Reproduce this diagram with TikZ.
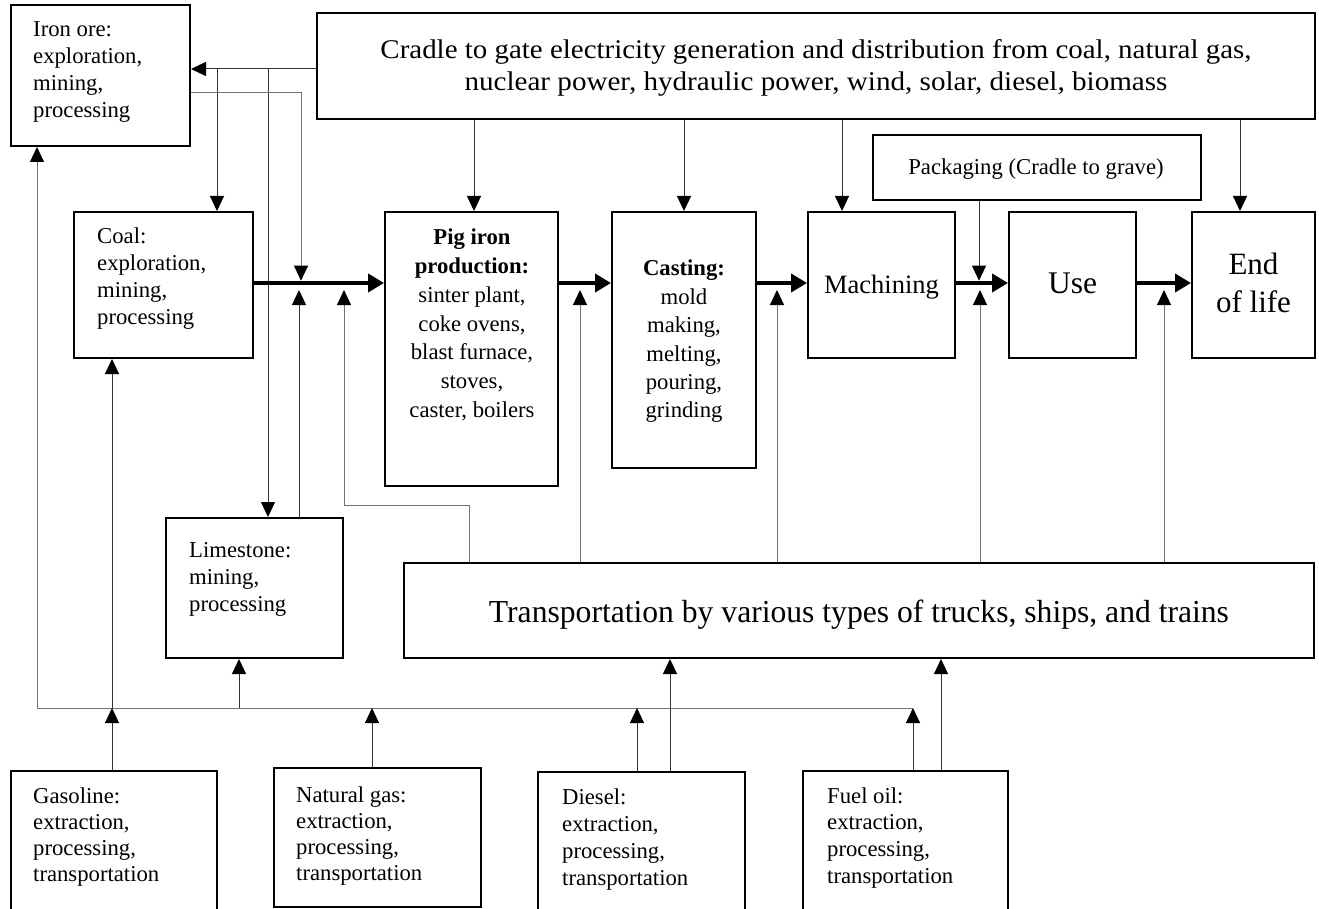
\documentclass[tikz,border=0pt]{standalone}
\usepackage{fontspec}
\usepackage{graphicx}
\setmainfont{Liberation Serif}
\usetikzlibrary{arrows.meta,fit}
\begin{document}
\begin{tikzpicture}[x=1pt,y=-1pt,
  box/.style={draw, line width=2pt, inner sep=0pt},
  txt/.style={inner sep=0pt, anchor=base west, font=\fontsize{22.7}{27}\selectfont},
  ctxt/.style={inner sep=0pt, anchor=base},
  ln/.style={line width=1pt, draw=black!80},
  lng/.style={line width=1pt, draw=black!55},
  tip/.style={-{Triangle[length=15pt,width=14pt,color=black]}},
  flow/.style={line width=4.5pt, draw=black, -{Triangle[length=16pt,width=18pt]}}]
\useasboundingbox (0,0) rectangle (1319,909);

% boxes
\node[box, fit={(11,5) (190,146)}] (iron) {};
\node[box, fit={(317,13) (1315,119)}] (cradle) {};
\node[box, fit={(74,212) (253,358)}] (coal) {};
\node[box, fit={(385,212) (558,486)}] (pig) {};
\node[box, fit={(612,212) (756,468)}] (cast) {};
\node[box, fit={(873,135) (1201,200)}] (pack) {};
\node[box, fit={(808,212) (955,358)}] (mach) {};
\node[box, fit={(1009,212) (1136,358)}] (use) {};
\node[box, fit={(1192,212) (1315,358)}] (eol) {};
\node[box, fit={(166,518) (343,658)}] (lime) {};
\node[box, fit={(404,563) (1314,658)}] (trans) {};
\node[box, fit={(11,771) (217,920)}] (gas) {};
\node[box, fit={(274,768) (481,907)}] (ngas) {};
\node[box, fit={(538,772) (745,920)}] (dies) {};
\node[box, fit={(803,771) (1008,920)}] (fuel) {};

% texts
\node[txt] (iront) at (33,37) {\parbox[t]{170pt}{\raggedright Iron ore:\\exploration,\\mining,\\processing}};
\node[txt] (coalt) at (97,244) {\parbox[t]{170pt}{\raggedright Coal:\\exploration,\\mining,\\processing}};
\node[txt] (limet) at (189,557) {\parbox[t]{150pt}{\raggedright Limestone:\\mining,\\processing}};
\node[txt, font=\fontsize{22.7}{26.3}\selectfont] (gast) at (33,803) {\parbox[t]{180pt}{\raggedright Gasoline:\\extraction,\\processing,\\transportation}};
\node[txt, font=\fontsize{22.7}{26.3}\selectfont] (ngast) at (296,802) {\parbox[t]{180pt}{\raggedright Natural gas:\\extraction,\\processing,\\transportation}};
\node[txt, font=\fontsize{22.7}{27}\selectfont] (diest) at (562,804) {\parbox[t]{180pt}{\raggedright Diesel:\\extraction,\\processing,\\transportation}};
\node[txt, font=\fontsize{22.7}{26.7}\selectfont] (fuelt) at (827,803) {\parbox[t]{180pt}{\raggedright Fuel oil:\\extraction,\\processing,\\transportation}};
\node[ctxt, font=\fontsize{22.7}{28.7}\selectfont] (pigt) at (472,245) {\parbox[t]{170pt}{\centering \textbf{Pig iron}\\\textbf{production:}\\sinter plant,\\coke ovens,\\blast furnace,\\stoves,\\caster, boilers}};
\node[ctxt, font=\fontsize{22.7}{28.4}\selectfont] (castt) at (684,276) {\parbox[t]{140pt}{\centering \textbf{Casting:}\\mold\\making,\\melting,\\pouring,\\grinding}};
\node[ctxt, font=\fontsize{22.7}{27}\selectfont] (packt) at (1036,175) {Packaging (Cradle to grave)};
\node[ctxt, font=\fontsize{26.5}{32}\selectfont] (macht) at (881.5,293) {Machining};
\node[ctxt, font=\fontsize{31.5}{38}\selectfont] (uset) at (1072.5,293) {Use};
\node[ctxt, font=\fontsize{31}{38}\selectfont] (eolt) at (1253.5,274) {\parbox[t]{120pt}{\centering End\\of life}};
\node[ctxt, font=\fontsize{27}{32}\selectfont] (cradlet) at (816,59) {\parbox[t]{990pt}{\centering\resizebox{871pt}{\height}{Cradle to gate electricity generation and distribution from coal, natural gas,}\\\resizebox{703pt}{\height}{nuclear power, hydraulic power, wind, solar, diesel, biomass}}};
\node[ctxt, font=\fontsize{32}{36}\selectfont] (transt) at (859,622) {\resizebox{740pt}{\height}{Transportation by various types of trucks, ships, and trains}};

% main flow line level
\coordinate (ml) at (0,283);

% electricity links on the left
\draw[ln,tip] (cradle.west |- 0,69) -- (iron.east |- 0,69);
\coordinate (ja) at (217,69);
\coordinate (jb) at (268,69);
\draw[ln,tip] (ja) -- (coal.north -| ja);
\draw[ln,tip] (jb) -- (lime.north -| jb);
\coordinate (dn1) at (301,280.7);
\draw[lng,tip] (iron.east |- 0,93) -| (dn1);
\coordinate (up1) at (299,290);
\draw[ln,tip] (lime.north -| up1) -- (up1);
\coordinate (up2) at (344,290);
\draw[lng,tip] (trans.north -| 469,0) |- (up2 |- 0,505) -- (up2);

% electricity down arrows
\draw[ln,tip] (cradle.south -| 474,0) -- (pig.north -| 474,0);
\draw[ln,tip] (cradle.south -| 684,0) -- (cast.north -| 684,0);
\draw[ln,tip] (cradle.south -| 842,0) -- (mach.north -| 842,0);
\draw[ln,tip] (cradle.south -| 1240,0) -- (eol.north -| 1240,0);

% main flow
\draw[flow] (coal.east |- ml) -- (pig.west |- ml);
\draw[flow] (pig.east |- ml) -- (cast.west |- ml);
\draw[flow] (cast.east |- ml) -- (mach.west |- ml);
\draw[flow] (mach.east |- ml) -- (use.west |- ml);
\draw[flow] (use.east |- ml) -- (eol.west |- ml);

% transportation up arrows
\foreach \xx in {580,777,980,1164} {
  \coordinate (u\xx) at (\xx,290);
  \draw[lng,tip] (trans.north -| u\xx) -- (u\xx);
}
% packaging
\coordinate (pk) at (979,280.7);
\draw[ln,tip] (pack.south -| pk) -- (pk);

% bottom fuel network
\coordinate (bl) at (37,708);
\coordinate (br) at (913,708);
\draw[lng] (bl) -- (br);
\draw[lng,tip] (bl) -- (iron.south -| bl);
\coordinate (g1) at (112,708);
\draw[ln,tip] (gas.north -| g1) -- (g1);
\draw[ln,tip] (g1) -- (coal.south -| g1);
\coordinate (l1) at (239,708);
\draw[ln,tip] (l1) -- (lime.south -| l1);
\coordinate (n1) at (372,708);
\draw[ln,tip] (ngas.north -| n1) -- (n1);
\coordinate (d1) at (637,708);
\draw[ln,tip] (dies.north -| d1) -- (d1);
\draw[ln,tip] (dies.north -| 670,0) -- (trans.south -| 670,0);
\draw[ln,tip] (fuel.north -| br) -- (br);
\draw[ln,tip] (fuel.north -| 941,0) -- (trans.south -| 941,0);
\end{tikzpicture}
\end{document}
